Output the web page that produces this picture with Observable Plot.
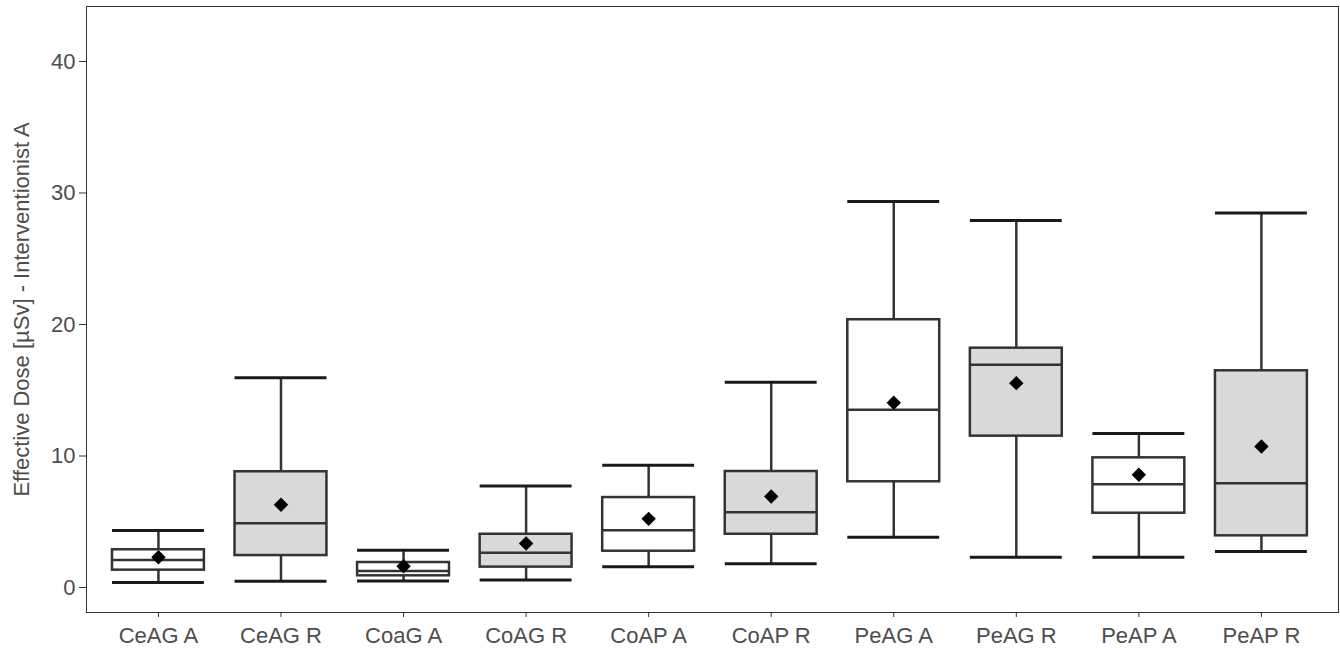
<!DOCTYPE html>
<html>
<head>
<meta charset="utf-8">
<script src="https://cdn.jsdelivr.net/npm/d3@7"></script>
<script src="https://cdn.jsdelivr.net/npm/@observablehq/plot@0.6"></script>
<style>
  html, body { margin: 0; padding: 0; background: #fff; }
  #chart { width: 1340px; height: 649px; }
  svg { font-family: "Liberation Sans", Arial, sans-serif; }
</style>
</head>
<body>
<div id="chart"></div>
<script>
const categories = ["CeAG A","CeAG R","CoaG A","CoAG R","CoAP A","CoAP R","PeAG A","PeAG R","PeAP A","PeAP R"];
const whiskerLow  = [0.38, 0.48, 0.50, 0.58, 1.57, 1.80, 3.83, 2.30, 2.30, 2.74];
const q1          = [1.32, 2.43, 0.89, 1.55, 2.76, 4.05, 8.04, 11.51, 5.65, 3.93];
const median      = [2.10, 4.89, 1.25, 2.64, 4.36, 5.73, 13.51, 16.93, 7.86, 7.93];
const q3          = [2.87, 8.80, 1.90, 4.05, 6.84, 8.82, 20.36, 18.20, 9.86, 16.48];
const whiskerHigh = [4.33, 15.95, 2.84, 7.71, 9.30, 15.61, 29.35, 27.90, 11.71, 28.47];
const means       = [2.30, 6.29, 1.62, 3.35, 5.22, 6.92, 14.05, 15.54, 8.57, 10.72];
const groups      = ["A","R","A","R","A","R","A","R","A","R"];
const yTicks = [0, 10, 20, 30, 40];

const data = categories.map((c, i) => ({
  cat: c, lo: whiskerLow[i], q1: q1[i], med: median[i], q3: q3[i],
  hi: whiskerHigh[i], mean: means[i], group: groups[i]
}));

const chart = Plot.plot({
  width: 1340,
  height: 649,
  marginLeft: 86,
  marginRight: 2,
  marginTop: 6,
  marginBottom: 37,
  style: { fontFamily: "'Liberation Sans', Arial, sans-serif", fontSize: "22px", color: "#4d4d4d", background: "#fff" },
  x: { type: "band", domain: categories, paddingInner: 0.25, paddingOuter: 0.233, align: 0.455, round: false, label: null },
  y: { domain: [-1.9, 44.18], label: null },
  color: { domain: ["A","R"], range: ["#ffffff", "#d9d9d9"] },
  marks: [
    Plot.ruleX(data, { x: "cat", y1: "lo", y2: "q1", stroke: "#333333", strokeWidth: 2.5 }),
    Plot.ruleX(data, { x: "cat", y1: "q3", y2: "hi", stroke: "#333333", strokeWidth: 2.5 }),
    Plot.tickY(data, { x: "cat", y: "lo", stroke: "#1a1a1a", strokeWidth: 3 }),
    Plot.tickY(data, { x: "cat", y: "hi", stroke: "#1a1a1a", strokeWidth: 3 }),
    Plot.barY(data, { x: "cat", y1: "q1", y2: "q3", fill: "group", stroke: "#333333", strokeWidth: 2.5, insetLeft: 0, insetRight: 0 }),
    Plot.tickY(data, { x: "cat", y: "med", stroke: "#333333", strokeWidth: 2.5 }),
    Plot.dot(data, { x: "cat", y: "mean", symbol: "diamond2", r: 6.5, fill: "#000", stroke: "none" }),
    Plot.frame({ stroke: "#333333", strokeWidth: 1 }),
    Plot.axisY({ ticks: yTicks, tickSize: 7, tickPadding: 4, tickFormat: d => String(d), fontSize: 22, stroke: "#333", color: "#4d4d4d",
      label: "Effective Dose [µSv] - Interventionist A", labelAnchor: "center", labelArrow: "none", labelOffset: 73 }),
    Plot.axisX({ tickSize: 5, tickPadding: 10, fontSize: 22, stroke: "#333", color: "#4d4d4d", label: null })
  ]
});
document.getElementById("chart").appendChild(chart);
</script>
</body>
</html>
